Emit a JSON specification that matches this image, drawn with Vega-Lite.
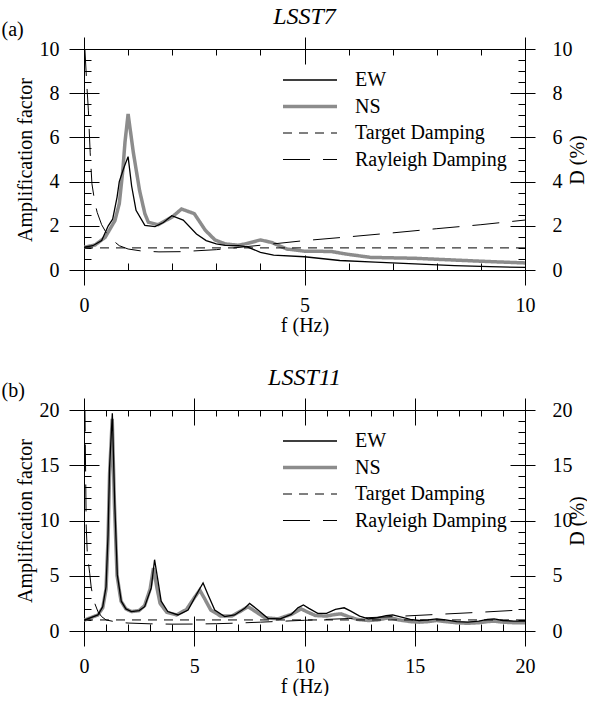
{
  "$schema": "https://vega.github.io/schema/vega-lite/v6.json",
  "padding": {"left": 1, "top": 5, "right": 0, "bottom": 0},
  "background": "white",
  "spacing": 31,
  "resolve": {
    "scale": {"strokeDash": "independent"},
    "legend": {"strokeDash": "independent"}
  },
  "config": {
    "font": "Liberation Serif, Times New Roman, DejaVu Serif, serif",
    "view": {"stroke": null},
    "axis": {
      "labelFont": "Liberation Serif, Times New Roman, DejaVu Serif, serif", "labelFontSize": 20, "labelColor": "black",
      "titleFont": "Liberation Serif, Times New Roman, DejaVu Serif, serif", "titleFontSize": 20, "titleFontWeight": "normal", "titleColor": "black",
      "tickColor": "black", "domainColor": "black", "tickWidth": 1, "domainWidth": 1,
      "grid": false, "minExtent": 0, "labelFlush": false, "labelOverlap": false, "labelBound": false
    },
    "title": {"font": "Liberation Serif, Times New Roman, DejaVu Serif, serif", "fontSize": 24, "fontStyle": "italic", "fontWeight": "normal", "color": "black", "offset": -10},
    "legend": {"labelFont": "Liberation Serif, Times New Roman, DejaVu Serif, serif", "labelFontSize": 20, "labelColor": "black"}
  },
  "datasets": {
    "a": [
      {"series": "EW", "f": 0, "value": 1.03}, {"series": "EW", "f": 0.2, "value": 1.1}, {"series": "EW", "f": 0.4, "value": 1.33},
      {"series": "EW", "f": 0.55, "value": 2.0}, {"series": "EW", "f": 0.65, "value": 2.3}, {"series": "EW", "f": 0.75, "value": 3.3},
      {"series": "EW", "f": 0.8, "value": 4.0}, {"series": "EW", "f": 0.9, "value": 4.6}, {"series": "EW", "f": 1.0, "value": 5.13},
      {"series": "EW", "f": 1.08, "value": 3.8}, {"series": "EW", "f": 1.18, "value": 2.7}, {"series": "EW", "f": 1.38, "value": 2.02},
      {"series": "EW", "f": 1.61, "value": 1.96}, {"series": "EW", "f": 1.8, "value": 2.15}, {"series": "EW", "f": 1.99, "value": 2.46},
      {"series": "EW", "f": 2.25, "value": 2.26}, {"series": "EW", "f": 2.55, "value": 1.63}, {"series": "EW", "f": 2.77, "value": 1.33},
      {"series": "EW", "f": 3.0, "value": 1.18}, {"series": "EW", "f": 3.2, "value": 1.11}, {"series": "EW", "f": 3.5, "value": 1.1},
      {"series": "EW", "f": 3.7, "value": 1.05}, {"series": "EW", "f": 4.0, "value": 0.8}, {"series": "EW", "f": 4.3, "value": 0.67},
      {"series": "EW", "f": 5.0, "value": 0.6}, {"series": "EW", "f": 5.8, "value": 0.43}, {"series": "EW", "f": 6.6, "value": 0.36},
      {"series": "EW", "f": 7.5, "value": 0.28}, {"series": "EW", "f": 8.4, "value": 0.2}, {"series": "EW", "f": 9.2, "value": 0.15},
      {"series": "EW", "f": 10, "value": 0.12},
      {"series": "NS", "f": 0, "value": 1.03}, {"series": "NS", "f": 0.25, "value": 1.13}, {"series": "NS", "f": 0.48, "value": 1.48},
      {"series": "NS", "f": 0.7, "value": 2.23}, {"series": "NS", "f": 0.8, "value": 3.0}, {"series": "NS", "f": 0.88, "value": 4.5},
      {"series": "NS", "f": 0.93, "value": 5.8}, {"series": "NS", "f": 1.0, "value": 7.06}, {"series": "NS", "f": 1.12, "value": 5.3},
      {"series": "NS", "f": 1.26, "value": 3.6}, {"series": "NS", "f": 1.38, "value": 2.55}, {"series": "NS", "f": 1.46, "value": 2.16},
      {"series": "NS", "f": 1.68, "value": 2.05}, {"series": "NS", "f": 2.0, "value": 2.4}, {"series": "NS", "f": 2.21, "value": 2.76},
      {"series": "NS", "f": 2.5, "value": 2.55}, {"series": "NS", "f": 2.75, "value": 1.8}, {"series": "NS", "f": 2.97, "value": 1.36},
      {"series": "NS", "f": 3.2, "value": 1.18}, {"series": "NS", "f": 3.5, "value": 1.12}, {"series": "NS", "f": 3.7, "value": 1.2},
      {"series": "NS", "f": 4.0, "value": 1.36}, {"series": "NS", "f": 4.25, "value": 1.25}, {"series": "NS", "f": 4.6, "value": 0.95},
      {"series": "NS", "f": 5.0, "value": 0.85}, {"series": "NS", "f": 5.6, "value": 0.84}, {"series": "NS", "f": 5.95, "value": 0.72},
      {"series": "NS", "f": 6.5, "value": 0.57}, {"series": "NS", "f": 7.5, "value": 0.53}, {"series": "NS", "f": 8.4, "value": 0.45},
      {"series": "NS", "f": 9.2, "value": 0.38}, {"series": "NS", "f": 10, "value": 0.32},
      {"series": "Target Damping", "f": 0, "value": 1}, {"series": "Target Damping", "f": 10, "value": 1},
      {"series": "Rayleigh Damping", "f": 0.02, "value": 10.0}, {"series": "Rayleigh Damping", "f": 0.06, "value": 8.5},
      {"series": "Rayleigh Damping", "f": 0.1, "value": 7.2}, {"series": "Rayleigh Damping", "f": 0.14, "value": 5.3},
      {"series": "Rayleigh Damping", "f": 0.18, "value": 3.9}, {"series": "Rayleigh Damping", "f": 0.25, "value": 3.0},
      {"series": "Rayleigh Damping", "f": 0.3, "value": 2.6}, {"series": "Rayleigh Damping", "f": 0.4, "value": 2.05},
      {"series": "Rayleigh Damping", "f": 0.5, "value": 1.7}, {"series": "Rayleigh Damping", "f": 0.62, "value": 1.4},
      {"series": "Rayleigh Damping", "f": 0.8, "value": 1.1}, {"series": "Rayleigh Damping", "f": 1.0, "value": 0.95},
      {"series": "Rayleigh Damping", "f": 1.3, "value": 0.86}, {"series": "Rayleigh Damping", "f": 1.7, "value": 0.82},
      {"series": "Rayleigh Damping", "f": 2.2, "value": 0.83}, {"series": "Rayleigh Damping", "f": 3.0, "value": 0.92},
      {"series": "Rayleigh Damping", "f": 4.0, "value": 1.12}, {"series": "Rayleigh Damping", "f": 5.0, "value": 1.33},
      {"series": "Rayleigh Damping", "f": 6.0, "value": 1.5}, {"series": "Rayleigh Damping", "f": 7.0, "value": 1.68},
      {"series": "Rayleigh Damping", "f": 8.0, "value": 1.87}, {"series": "Rayleigh Damping", "f": 9.0, "value": 2.05},
      {"series": "Rayleigh Damping", "f": 10.0, "value": 2.26}
    ],
    "b": [
      {"series": "EW", "f": 0, "value": 0.97}, {"series": "EW", "f": 0.63, "value": 1.45}, {"series": "EW", "f": 0.85, "value": 2.2},
      {"series": "EW", "f": 1.0, "value": 4.0}, {"series": "EW", "f": 1.09, "value": 8.7}, {"series": "EW", "f": 1.16, "value": 14.8},
      {"series": "EW", "f": 1.285, "value": 19.7}, {"series": "EW", "f": 1.39, "value": 11.8}, {"series": "EW", "f": 1.51, "value": 5.1},
      {"series": "EW", "f": 1.69, "value": 2.7}, {"series": "EW", "f": 1.9, "value": 2.0}, {"series": "EW", "f": 2.15, "value": 1.76},
      {"series": "EW", "f": 2.5, "value": 1.85}, {"series": "EW", "f": 2.75, "value": 2.2}, {"series": "EW", "f": 3.05, "value": 3.9},
      {"series": "EW", "f": 3.2, "value": 6.45}, {"series": "EW", "f": 3.36, "value": 4.5}, {"series": "EW", "f": 3.5, "value": 2.7},
      {"series": "EW", "f": 3.8, "value": 1.76}, {"series": "EW", "f": 4.26, "value": 1.45}, {"series": "EW", "f": 4.72, "value": 1.9},
      {"series": "EW", "f": 5.1, "value": 3.3}, {"series": "EW", "f": 5.4, "value": 4.35}, {"series": "EW", "f": 5.62, "value": 3.3},
      {"series": "EW", "f": 5.93, "value": 1.9}, {"series": "EW", "f": 6.38, "value": 1.3}, {"series": "EW", "f": 6.83, "value": 1.45},
      {"series": "EW", "f": 7.29, "value": 2.06}, {"series": "EW", "f": 7.51, "value": 2.5}, {"series": "EW", "f": 7.89, "value": 1.9},
      {"series": "EW", "f": 8.34, "value": 1.15}, {"series": "EW", "f": 8.9, "value": 1.1}, {"series": "EW", "f": 9.4, "value": 1.5},
      {"series": "EW", "f": 9.7, "value": 2.1}, {"series": "EW", "f": 9.95, "value": 2.35}, {"series": "EW", "f": 10.2, "value": 2.05},
      {"series": "EW", "f": 10.6, "value": 1.6}, {"series": "EW", "f": 11.0, "value": 1.6}, {"series": "EW", "f": 11.4, "value": 1.95},
      {"series": "EW", "f": 11.8, "value": 2.1}, {"series": "EW", "f": 12.1, "value": 1.8}, {"series": "EW", "f": 12.5, "value": 1.35},
      {"series": "EW", "f": 12.9, "value": 1.1}, {"series": "EW", "f": 13.3, "value": 1.2}, {"series": "EW", "f": 13.7, "value": 1.4},
      {"series": "EW", "f": 14.0, "value": 1.45}, {"series": "EW", "f": 14.4, "value": 1.25}, {"series": "EW", "f": 14.8, "value": 1.05},
      {"series": "EW", "f": 15.2, "value": 0.95}, {"series": "EW", "f": 15.6, "value": 1.0}, {"series": "EW", "f": 16.0, "value": 1.1},
      {"series": "EW", "f": 16.4, "value": 1.0}, {"series": "EW", "f": 16.9, "value": 0.85}, {"series": "EW", "f": 17.4, "value": 0.8},
      {"series": "EW", "f": 17.9, "value": 0.9}, {"series": "EW", "f": 18.3, "value": 1.05}, {"series": "EW", "f": 18.6, "value": 1.1},
      {"series": "EW", "f": 19.0, "value": 0.95}, {"series": "EW", "f": 19.5, "value": 0.9}, {"series": "EW", "f": 20, "value": 0.9},
      {"series": "NS", "f": 0, "value": 0.97}, {"series": "NS", "f": 0.63, "value": 1.45}, {"series": "NS", "f": 0.85, "value": 2.1},
      {"series": "NS", "f": 1.0, "value": 3.8}, {"series": "NS", "f": 1.09, "value": 8.3}, {"series": "NS", "f": 1.16, "value": 14.2},
      {"series": "NS", "f": 1.28, "value": 19.2}, {"series": "NS", "f": 1.38, "value": 11.5}, {"series": "NS", "f": 1.5, "value": 5.0},
      {"series": "NS", "f": 1.68, "value": 2.7}, {"series": "NS", "f": 1.9, "value": 2.0}, {"series": "NS", "f": 2.15, "value": 1.76},
      {"series": "NS", "f": 2.5, "value": 1.85}, {"series": "NS", "f": 2.75, "value": 2.3}, {"series": "NS", "f": 3.0, "value": 3.8},
      {"series": "NS", "f": 3.15, "value": 5.7}, {"series": "NS", "f": 3.3, "value": 4.0}, {"series": "NS", "f": 3.45, "value": 2.5},
      {"series": "NS", "f": 3.75, "value": 1.7}, {"series": "NS", "f": 4.2, "value": 1.45}, {"series": "NS", "f": 4.65, "value": 1.95},
      {"series": "NS", "f": 5.0, "value": 3.0}, {"series": "NS", "f": 5.25, "value": 3.7}, {"series": "NS", "f": 5.45, "value": 3.0},
      {"series": "NS", "f": 5.75, "value": 1.9}, {"series": "NS", "f": 6.2, "value": 1.35}, {"series": "NS", "f": 6.7, "value": 1.35},
      {"series": "NS", "f": 7.15, "value": 1.85}, {"series": "NS", "f": 7.44, "value": 2.2}, {"series": "NS", "f": 7.75, "value": 1.8},
      {"series": "NS", "f": 8.2, "value": 1.2}, {"series": "NS", "f": 8.8, "value": 1.1}, {"series": "NS", "f": 9.4, "value": 1.5},
      {"series": "NS", "f": 9.85, "value": 2.0}, {"series": "NS", "f": 10.1, "value": 1.75}, {"series": "NS", "f": 10.5, "value": 1.4},
      {"series": "NS", "f": 11.0, "value": 1.35}, {"series": "NS", "f": 11.4, "value": 1.5}, {"series": "NS", "f": 11.65, "value": 1.55},
      {"series": "NS", "f": 12.0, "value": 1.3}, {"series": "NS", "f": 12.4, "value": 1.05}, {"series": "NS", "f": 12.9, "value": 0.95},
      {"series": "NS", "f": 13.3, "value": 1.0}, {"series": "NS", "f": 13.7, "value": 1.15}, {"series": "NS", "f": 13.9, "value": 1.2},
      {"series": "NS", "f": 14.3, "value": 1.0}, {"series": "NS", "f": 14.8, "value": 0.85}, {"series": "NS", "f": 15.2, "value": 0.8},
      {"series": "NS", "f": 15.6, "value": 0.85}, {"series": "NS", "f": 16.0, "value": 0.95}, {"series": "NS", "f": 16.4, "value": 0.85},
      {"series": "NS", "f": 16.9, "value": 0.75}, {"series": "NS", "f": 17.4, "value": 0.7}, {"series": "NS", "f": 17.9, "value": 0.75},
      {"series": "NS", "f": 18.3, "value": 0.85}, {"series": "NS", "f": 18.6, "value": 0.9}, {"series": "NS", "f": 19.0, "value": 0.8},
      {"series": "NS", "f": 19.5, "value": 0.75}, {"series": "NS", "f": 20, "value": 0.75},
      {"series": "Target Damping", "f": 0, "value": 1}, {"series": "Target Damping", "f": 20, "value": 1},
      {"series": "Rayleigh Damping", "f": 0.04, "value": 20.5}, {"series": "Rayleigh Damping", "f": 0.07, "value": 15},
      {"series": "Rayleigh Damping", "f": 0.1, "value": 9.5}, {"series": "Rayleigh Damping", "f": 0.15, "value": 7.0},
      {"series": "Rayleigh Damping", "f": 0.26, "value": 5.2}, {"series": "Rayleigh Damping", "f": 0.33, "value": 3.9},
      {"series": "Rayleigh Damping", "f": 0.45, "value": 2.7}, {"series": "Rayleigh Damping", "f": 0.63, "value": 1.76},
      {"series": "Rayleigh Damping", "f": 0.8, "value": 1.3}, {"series": "Rayleigh Damping", "f": 1.0, "value": 1.0},
      {"series": "Rayleigh Damping", "f": 1.5, "value": 0.8}, {"series": "Rayleigh Damping", "f": 2.0, "value": 0.72},
      {"series": "Rayleigh Damping", "f": 3.0, "value": 0.65}, {"series": "Rayleigh Damping", "f": 4.0, "value": 0.62},
      {"series": "Rayleigh Damping", "f": 5.0, "value": 0.63}, {"series": "Rayleigh Damping", "f": 6.0, "value": 0.66},
      {"series": "Rayleigh Damping", "f": 7.0, "value": 0.72}, {"series": "Rayleigh Damping", "f": 8.0, "value": 0.8},
      {"series": "Rayleigh Damping", "f": 10.0, "value": 0.97}, {"series": "Rayleigh Damping", "f": 12.0, "value": 1.13},
      {"series": "Rayleigh Damping", "f": 14.0, "value": 1.3}, {"series": "Rayleigh Damping", "f": 16.0, "value": 1.5},
      {"series": "Rayleigh Damping", "f": 18.0, "value": 1.7}, {"series": "Rayleigh Damping", "f": 20.0, "value": 1.92}
    ]
  },
  "vconcat": [
    {
      "width": 441, "height": 221,
      "title": {"text": "LSST7"},
      "resolve": {"scale": {"x": "independent", "y": "independent"}, "axis": {"x": "independent", "y": "independent"}},
      "layer": [
        {
          "data": {"name": "a"},
          "transform": [{"filter": "datum.series === 'NS'"}],
          "mark": {"type": "line", "clip": true, "color": "#8c8c8c", "strokeWidth": 3.5},
          "encoding": {
            "x": {"field": "f", "type": "quantitative", "scale": {"domain": [0, 10], "nice": false, "zero": false},
              "axis": {"orient": "bottom", "values": [0, 5, 10], "offset": -15, "tickSize": 30, "domain": false, "labelPadding": 10, "format": "d",
                "title": "f (Hz)", "titlePadding": 0}},
            "y": {"field": "value", "type": "quantitative", "scale": {"domain": [0, 10], "nice": false},
              "axis": {"orient": "left", "values": [0, 2, 4, 6, 8, 10], "offset": -15, "tickSize": 30, "domain": false, "labelPadding": 10, "format": "d",
                "title": "Amplification factor", "titlePadding": 4}},
            "strokeDash": {"field": "series", "type": "nominal",
              "scale": {"type": "ordinal", "domain": ["EW", "NS", "Target Damping", "Rayleigh Damping"], "range": [[1, 0], [1, 0], [9, 7], [27, 13]]},
              "legend": {"orient": "none", "legendX": 216, "legendY": 21, "title": null, "symbolType": "M-2,0H2", "symbolSize": 729, "labelOffset": 35, "rowPadding": 6.5, "padding": 0,
                "symbolStrokeColor": {"expr": "datum.value === 'NS' ? '#8c8c8c' : 'black'"},
                "symbolStrokeWidth": {"expr": "datum.value === 'NS' ? 3.5 : (datum.value === 'EW' ? 1.3 : 1)"}}}
          }
        },
        {
          "data": {"name": "a"},
          "transform": [{"filter": "datum.series === 'EW'"}],
          "mark": {"type": "line", "clip": true, "color": "black", "strokeWidth": 1.3},
          "encoding": {
            "x": {"field": "f", "type": "quantitative", "scale": {"domain": [0, 10], "nice": false, "zero": false},
              "axis": {"orient": "bottom", "values": [0, 1, 2, 3, 4, 5, 6, 7, 8, 9, 10], "tickSize": -7, "labels": false, "domain": true, "title": null}},
            "y": {"field": "value", "type": "quantitative", "scale": {"domain": [0, 10], "nice": false},
              "axis": {"orient": "left", "values": [0, 0.5, 1, 1.5, 2, 2.5, 3, 3.5, 4, 4.5, 5, 5.5, 6, 6.5, 7, 7.5, 8, 8.5, 9, 9.5, 10], "tickSize": -7, "labels": false, "domain": true,
                "title": "(a)", "titleAngle": 0, "titleX": -83, "titleY": -14, "titleAlign": "left", "titleBaseline": "alphabetic"}}
          }
        },
        {
          "data": {"name": "a"},
          "transform": [{"filter": "datum.series === 'Target Damping'"}],
          "mark": {"type": "line", "clip": true, "color": "black", "strokeWidth": 1, "strokeDash": [9, 7]},
          "encoding": {
            "x": {"field": "f", "type": "quantitative", "scale": {"domain": [0, 10], "nice": false, "zero": false},
              "axis": {"orient": "top", "values": [0, 5, 10], "offset": -15, "tickSize": 27, "labels": false, "domain": false, "title": null}},
            "y": {"field": "value", "type": "quantitative", "scale": {"domain": [0, 10], "nice": false},
              "axis": {"orient": "right", "values": [0, 2, 4, 6, 8, 10], "offset": -15, "tickSize": 25, "domain": false, "labelPadding": 17, "format": "d",
                "title": "D (%)", "titleAngle": 270, "titleBaseline": "top", "titlePadding": -5}}
          }
        },
        {
          "data": {"name": "a"},
          "transform": [{"filter": "datum.series === 'Rayleigh Damping'"}],
          "mark": {"type": "line", "clip": true, "color": "black", "strokeWidth": 1, "strokeDash": [27, 13]},
          "encoding": {
            "x": {"field": "f", "type": "quantitative", "scale": {"domain": [0, 10], "nice": false, "zero": false},
              "axis": {"orient": "top", "values": [0, 1, 2, 3, 4, 5, 6, 7, 8, 9, 10], "tickSize": -6, "labels": false, "domain": true, "title": null}},
            "y": {"field": "value", "type": "quantitative", "scale": {"domain": [0, 10], "nice": false},
              "axis": {"orient": "right", "values": [0, 0.5, 1, 1.5, 2, 2.5, 3, 3.5, 4, 4.5, 5, 5.5, 6, 6.5, 7, 7.5, 8, 8.5, 9, 9.5, 10], "tickSize": -7, "labels": false, "domain": true, "title": null}}
          }
        }
      ]
    },
    {
      "width": 441, "height": 221,
      "title": {"text": "LSST11"},
      "resolve": {"scale": {"x": "independent", "y": "independent"}, "axis": {"x": "independent", "y": "independent"}},
      "layer": [
        {
          "data": {"name": "b"},
          "transform": [{"filter": "datum.series === 'NS'"}],
          "mark": {"type": "line", "clip": true, "color": "#8c8c8c", "strokeWidth": 3.5},
          "encoding": {
            "x": {"field": "f", "type": "quantitative", "scale": {"domain": [0, 20], "nice": false, "zero": false},
              "axis": {"orient": "bottom", "values": [0, 5, 10, 15, 20], "offset": -15, "tickSize": 30, "domain": false, "labelPadding": 10, "format": "d",
                "title": "f (Hz)", "titlePadding": 0}},
            "y": {"field": "value", "type": "quantitative", "scale": {"domain": [0, 20], "nice": false},
              "axis": {"orient": "left", "values": [0, 5, 10, 15, 20], "offset": -15, "tickSize": 30, "domain": false, "labelPadding": 10, "format": "d",
                "title": "Amplification factor", "titlePadding": 4}},
            "strokeDash": {"field": "series", "type": "nominal",
              "scale": {"type": "ordinal", "domain": ["EW", "NS", "Target Damping", "Rayleigh Damping"], "range": [[1, 0], [1, 0], [9, 7], [27, 13]]},
              "legend": {"orient": "none", "legendX": 216, "legendY": 21, "title": null, "symbolType": "M-2,0H2", "symbolSize": 729, "labelOffset": 35, "rowPadding": 6.5, "padding": 0,
                "symbolStrokeColor": {"expr": "datum.value === 'NS' ? '#8c8c8c' : 'black'"},
                "symbolStrokeWidth": {"expr": "datum.value === 'NS' ? 3.5 : (datum.value === 'EW' ? 1.3 : 1)"}}}
          }
        },
        {
          "data": {"name": "b"},
          "transform": [{"filter": "datum.series === 'EW'"}],
          "mark": {"type": "line", "clip": true, "color": "black", "strokeWidth": 1.3},
          "encoding": {
            "x": {"field": "f", "type": "quantitative", "scale": {"domain": [0, 20], "nice": false, "zero": false},
              "axis": {"orient": "bottom", "values": [0, 1, 2, 3, 4, 5, 6, 7, 8, 9, 10, 11, 12, 13, 14, 15, 16, 17, 18, 19, 20], "tickSize": -7, "labels": false, "domain": true, "title": null}},
            "y": {"field": "value", "type": "quantitative", "scale": {"domain": [0, 20], "nice": false},
              "axis": {"orient": "left", "values": [0, 1, 2, 3, 4, 5, 6, 7, 8, 9, 10, 11, 12, 13, 14, 15, 16, 17, 18, 19, 20], "tickSize": -7, "labels": false, "domain": true,
                "title": "(b)", "titleAngle": 0, "titleX": -83, "titleY": -14, "titleAlign": "left", "titleBaseline": "alphabetic"}}
          }
        },
        {
          "data": {"name": "b"},
          "transform": [{"filter": "datum.series === 'Target Damping'"}],
          "mark": {"type": "line", "clip": true, "color": "black", "strokeWidth": 1, "strokeDash": [9, 7]},
          "encoding": {
            "x": {"field": "f", "type": "quantitative", "scale": {"domain": [0, 20], "nice": false, "zero": false},
              "axis": {"orient": "top", "values": [0, 5, 10, 15, 20], "offset": -15, "tickSize": 27, "labels": false, "domain": false, "title": null}},
            "y": {"field": "value", "type": "quantitative", "scale": {"domain": [0, 20], "nice": false},
              "axis": {"orient": "right", "values": [0, 5, 10, 15, 20], "offset": -15, "tickSize": 25, "domain": false, "labelPadding": 17, "format": "d",
                "title": "D (%)", "titleAngle": 270, "titleBaseline": "top", "titlePadding": -5}}
          }
        },
        {
          "data": {"name": "b"},
          "transform": [{"filter": "datum.series === 'Rayleigh Damping'"}],
          "mark": {"type": "line", "clip": true, "color": "black", "strokeWidth": 1, "strokeDash": [27, 13]},
          "encoding": {
            "x": {"field": "f", "type": "quantitative", "scale": {"domain": [0, 20], "nice": false, "zero": false},
              "axis": {"orient": "top", "values": [0, 1, 2, 3, 4, 5, 6, 7, 8, 9, 10, 11, 12, 13, 14, 15, 16, 17, 18, 19, 20], "tickSize": -6, "labels": false, "domain": true, "title": null}},
            "y": {"field": "value", "type": "quantitative", "scale": {"domain": [0, 20], "nice": false},
              "axis": {"orient": "right", "values": [0, 1, 2, 3, 4, 5, 6, 7, 8, 9, 10, 11, 12, 13, 14, 15, 16, 17, 18, 19, 20], "tickSize": -7, "labels": false, "domain": true, "title": null}}
          }
        }
      ]
    }
  ]
}
